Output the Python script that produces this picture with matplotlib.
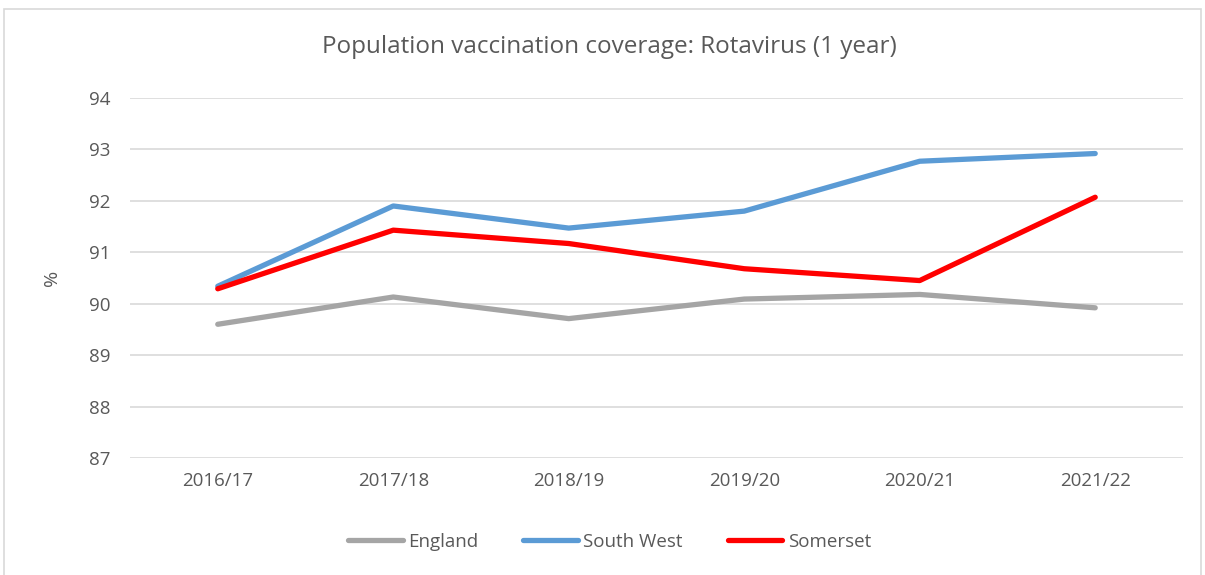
import numpy as np
import matplotlib
matplotlib.use("Agg")
import matplotlib.pyplot as plt
from matplotlib.patches import Rectangle

years = ["2016/17", "2017/18", "2018/19", "2019/20", "2020/21", "2021/22"]
england = [89.60, 90.13, 89.71, 90.09, 90.18, 89.92]
south_west = [90.34, 91.90, 91.47, 91.80, 92.77, 92.92]
somerset = [90.29, 91.43, 91.17, 90.68, 90.45, 92.07]

txt = "#595959"
plt.rcParams['font.family'] = ['Open Sans', 'DejaVu Sans']

fig = plt.figure(figsize=(12.05, 5.75), dpi=100)
ax = fig.add_axes([0.1079, 0.2035, 0.8738, 0.6261])

x = np.arange(len(years))
ax.plot(x, england, color="#A5A5A5", lw=3.8, solid_capstyle="round", label="England")
ax.plot(x, south_west, color="#5B9BD5", lw=3.8, solid_capstyle="round", label="South West")
ax.plot(x, somerset, color="#FF0000", lw=3.8, solid_capstyle="round", label="Somerset")

ax.set_xlim(-0.5, len(years) - 0.5)
ax.set_ylim(87, 94)
ax.set_yticks(range(87, 95))
ax.set_xticks(x)
ax.set_xticklabels(years)
ax.tick_params(length=0, labelsize=13.5, colors=txt, pad=10)
ax.tick_params(axis='y', pad=14)
ax.grid(axis='y', color="#D9D9D9", lw=1.2)
ax.set_axisbelow(True)
for s in ax.spines.values():
    s.set_visible(False)
ax.set_ylabel("%", fontsize=14, color=txt, labelpad=20)

fig.text(0.506, 0.918, "Population vaccination coverage: Rotavirus (1 year)",
         ha="center", va="center", fontsize=17.5, color=txt)

leg = fig.legend(loc="center", bbox_to_anchor=(0.506, 0.058), ncol=3, frameon=False,
                 fontsize=13.5, handlelength=2.9, columnspacing=2.4, handletextpad=0.3,
                 labelcolor=txt)

fig.patches.append(Rectangle((0.003, -0.01), 0.994, 0.995, transform=fig.transFigure,
                             fill=False, edgecolor="#D9D9D9", lw=1.2))

fig.savefig("out.png", dpi=100)
